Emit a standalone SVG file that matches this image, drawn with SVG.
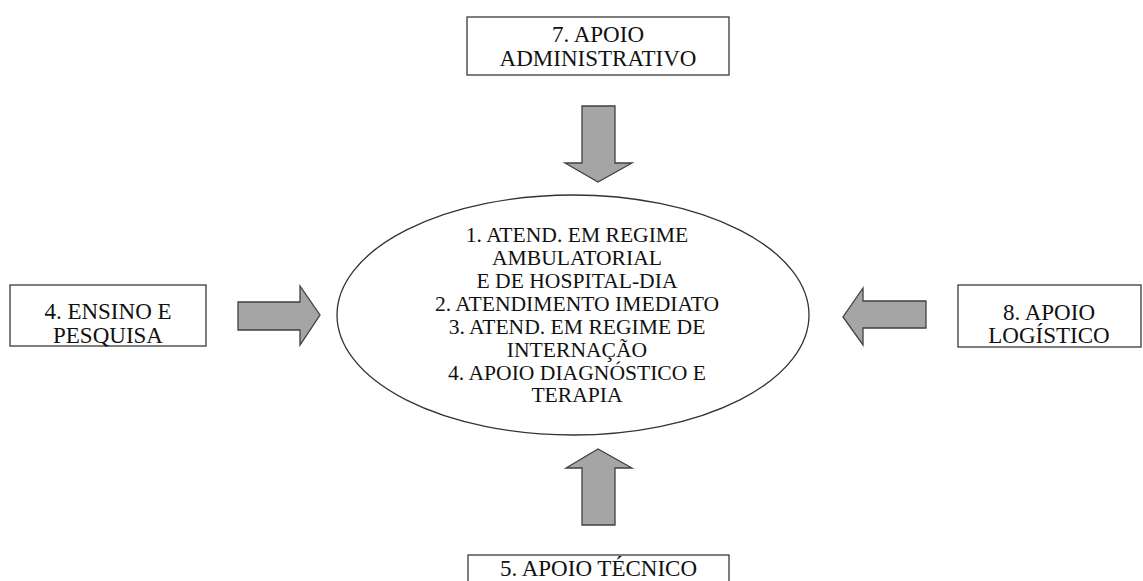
<svg xmlns="http://www.w3.org/2000/svg" width="1143" height="581" viewBox="0 0 1143 581">
<style>
.box{fill:#fff;stroke:#3a3a3a;stroke-width:1.3}
.arrow{fill:#a5a5a5;stroke:#404040;stroke-width:1.3;stroke-linejoin:miter}
text{fill:#111;text-anchor:middle}
.t{font-size:23px}
.c{font-size:21.6px}
</style>
<rect width="1143" height="581" fill="#fff"/>
<g id="center" font-family="Liberation Serif, Times New Roman, DejaVu Serif, serif">
<ellipse cx="573" cy="315" rx="236" ry="120" fill="#fff" stroke="#333" stroke-width="1.3"/>
<text class="c" x="577" y="242">1. ATEND. EM REGIME</text>
<text class="c" x="577" y="265">AMBULATORIAL</text>
<text class="c" x="577" y="288">E DE HOSPITAL-DIA</text>
<text class="c" x="577" y="311">2. ATENDIMENTO IMEDIATO</text>
<text class="c" x="577" y="334">3. ATEND. EM REGIME DE</text>
<text class="c" x="577" y="356.5">INTERNAÇÃO</text>
<text class="c" x="577" y="379.5">4. APOIO DIAGNÓSTICO E</text>
<text class="c" x="577" y="402">TERAPIA</text>
</g>
<g id="top" font-family="Liberation Serif, Times New Roman, DejaVu Serif, serif">
<rect class="box" x="467" y="17" width="262" height="58"/>
<text class="t" x="598" y="42">7. APOIO</text>
<text class="t" x="598" y="66">ADMINISTRATIVO</text>
</g>
<g id="left" font-family="Liberation Serif, Times New Roman, DejaVu Serif, serif">
<rect class="box" x="10" y="285" width="196" height="61"/>
<text class="t" x="108" y="319">4. ENSINO E</text>
<text class="t" x="108" y="343">PESQUISA</text>
</g>
<g id="right" font-family="Liberation Serif, Times New Roman, DejaVu Serif, serif">
<rect class="box" x="958" y="285" width="183" height="62"/>
<text class="t" x="1049" y="320">8. APOIO</text>
<text class="t" x="1049" y="343">LOGÍSTICO</text>
</g>
<g id="bottom" font-family="Liberation Serif, Times New Roman, DejaVu Serif, serif">
<rect class="box" x="468" y="555" width="261" height="40"/>
<text class="t" x="598.5" y="576">5. APOIO TÉCNICO</text>
</g>
<g id="connectors">
<polygon class="arrow" points="582,106 615,106 615,163 632,163 598,182 565,163 582,163"/>
<polygon class="arrow" points="582,525 615,525 615,468 632,468 598,449 566,468 582,468"/>
<polygon class="arrow" points="238,302 300,302 300,286 320,315 300,345 300,330 238,330"/>
<polygon class="arrow" points="926,301 863,301 863,288 843,317 863,345 863,328 926,328"/>
</g>
</svg>
